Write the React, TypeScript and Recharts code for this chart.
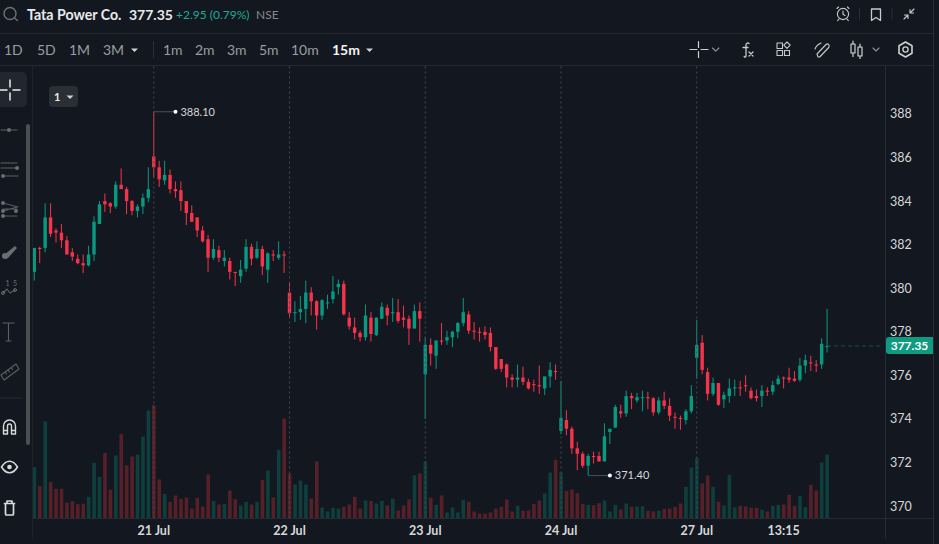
import React from 'react';
import { ComposedChart, Bar, Cell, XAxis, YAxis, ReferenceLine, ReferenceDot } from 'recharts';

const opens = [
  380.75, 381.85, 381.85, 383.25, 382.65, 382.55, 382.2, 381.65, 381.35, 381.15,
  381.05, 381.55, 382.95, 384.0, 383.9, 383.75, 384.75, 384.55, 384.0, 383.55,
  383.75, 384.15, 386.05, 385.55, 384.95, 385.2, 384.55, 384.5, 384.0, 383.45,
  383.25, 382.65, 382.25, 381.4, 381.75, 381.25, 381.25, 380.75, 380.55, 380.9,
  381.9, 381.4, 381.8, 380.85, 381.55, 381.4, 381.55, 379.8, 378.85, 378.9,
  379.05, 379.8, 379.4, 378.75, 379.3, 379.5, 380.05, 380.2, 378.65, 378.2,
  377.95, 377.75, 378.65, 377.85, 378.6, 379.1, 378.85, 378.9, 378.65, 378.6,
  378.15, 378.95, 376.05, 377.4, 376.9, 377.6, 377.6, 377.75, 378.0, 378.4,
  378.8, 378.05, 378.0, 378.0, 377.95, 377.3, 376.75, 376.5, 375.9, 375.8,
  375.9, 375.7, 375.6, 375.55, 375.4, 375.95, 376.2, 373.45, 373.95, 373.55,
  372.65, 372.4, 371.85, 372.3, 372.3, 372.05, 373.4, 373.6, 374.35, 374.25,
  375.05, 374.85, 374.95, 375.0, 374.95, 374.3, 374.85, 374.6, 374.1, 374.05,
  373.95, 374.35, 376.8, 377.5, 376.15, 375.15, 375.65, 374.9, 375.05, 375.4,
  375.45, 375.55, 375.3, 375.05, 375.05, 375.3, 375.25, 375.6, 375.9, 375.9,
  375.85, 375.8, 376.45, 376.6, 376.5, 376.5, 377.3,
];
const highs = [
  381.85, 381.9, 383.9, 383.9, 382.75, 382.95, 382.4, 381.85, 381.55, 381.55,
  381.95, 383.3, 384.0, 384.35, 383.95, 384.9, 385.5, 384.65, 384.05, 383.85,
  384.35, 385.55, 388.1, 385.85, 385.85, 385.45, 384.9, 384.9, 384.0, 383.8,
  383.25, 382.85, 382.45, 382.25, 381.95, 381.75, 381.4, 380.75, 381.3, 382.25,
  382.05, 382.15, 381.95, 381.65, 381.75, 382.15, 381.7, 380.25, 379.4, 379.65,
  380.35, 380.05, 379.45, 379.5, 379.7, 380.55, 380.4, 380.35, 378.9, 378.65,
  378.05, 379.25, 378.9, 378.65, 379.35, 379.25, 379.55, 379.5, 379.2, 378.75,
  379.25, 379.35, 377.75, 377.7, 377.6, 378.4, 378.05, 378.05, 378.45, 379.55,
  378.95, 378.45, 378.2, 378.25, 378.2, 377.3, 376.75, 376.55, 376.05, 376.5,
  376.4, 375.85, 375.8, 376.45, 375.95, 376.6, 376.5, 375.75, 374.4, 373.65,
  372.95, 372.5, 372.4, 372.5, 372.5, 373.8, 373.55, 374.65, 374.65, 375.3,
  375.2, 375.2, 375.3, 375.25, 375.0, 375.0, 375.25, 374.95, 374.3, 374.15,
  374.45, 375.55, 378.55, 377.85, 376.35, 375.9, 375.65, 375.25, 375.85, 375.8,
  375.75, 376.0, 375.45, 375.35, 375.55, 375.45, 375.75, 376.0, 375.95, 376.35,
  376.2, 376.8, 376.95, 376.9, 376.7, 377.7, 379.05,
];
const lows = [
  380.35, 381.15, 381.65, 382.35, 382.1, 381.85, 381.55, 381.25, 381.1, 380.7,
  381.0, 381.25, 382.95, 383.5, 383.45, 383.65, 384.55, 383.4, 383.35, 383.25,
  383.4, 383.95, 385.1, 384.65, 384.75, 384.35, 384.15, 383.55, 382.9, 383.05,
  382.35, 382.1, 380.75, 381.3, 381.2, 381.0, 380.4, 380.1, 380.25, 380.75,
  381.05, 381.35, 380.6, 380.25, 381.25, 381.3, 380.7, 378.65, 378.45, 378.55,
  378.4, 378.75, 378.1, 378.55, 379.05, 379.3, 379.7, 378.75, 378.1, 377.65,
  377.55, 377.6, 377.55, 377.8, 378.6, 378.3, 378.45, 378.4, 378.2, 377.4,
  378.15, 377.55, 374.0, 376.45, 376.3, 377.4, 377.4, 377.3, 377.7, 378.25,
  377.9, 377.65, 377.55, 377.65, 377.1, 376.25, 376.15, 375.45, 375.45, 375.45,
  375.55, 375.35, 375.25, 375.15, 375.1, 375.45, 375.8, 373.3, 373.25, 372.4,
  371.65, 371.75, 371.4, 371.95, 372.05, 372.05, 372.85, 373.6, 374.05, 374.1,
  374.45, 374.75, 374.35, 374.45, 374.15, 374.2, 374.45, 373.9, 373.55, 373.5,
  373.75, 374.25, 375.85, 376.05, 374.85, 375.05, 374.6, 374.5, 374.75, 375.05,
  375.05, 375.25, 374.9, 374.8, 374.55, 375.05, 375.1, 375.55, 375.4, 375.65,
  375.7, 375.7, 376.1, 376.2, 376.15, 376.3, 377.05,
];
const closes = [
  381.85, 381.8, 383.25, 382.5, 382.55, 382.2, 381.55, 381.45, 381.15, 381.05,
  381.55, 383.05, 383.85, 383.85, 383.75, 384.75, 384.55, 384.0, 383.55, 383.75,
  384.15, 384.55, 385.55, 385.0, 385.2, 384.55, 384.45, 384.0, 383.45, 383.05,
  382.65, 382.15, 381.4, 381.8, 381.4, 381.4, 380.75, 380.7, 380.85, 381.9,
  381.35, 381.8, 381.0, 381.6, 381.5, 381.55, 381.5, 378.85, 378.9, 379.05,
  379.8, 379.4, 378.75, 379.45, 379.35, 379.85, 380.2, 378.8, 378.25, 377.95,
  377.75, 378.75, 377.9, 378.65, 379.15, 378.75, 378.9, 378.5, 378.55, 378.15,
  378.95, 378.6, 377.4, 377.0, 377.6, 377.55, 377.75, 378.0, 378.4, 378.9,
  378.05, 378.0, 377.95, 377.85, 377.3, 376.3, 376.3, 375.9, 375.8, 375.9,
  375.7, 375.4, 375.55, 375.5, 375.95, 376.25, 376.15, 374.05, 373.55, 372.65,
  372.4, 371.85, 372.3, 372.25, 372.05, 373.2, 373.55, 374.55, 374.25, 375.05,
  374.95, 375.0, 375.0, 374.95, 374.3, 374.85, 374.6, 374.15, 374.05, 374.0,
  374.35, 375.05, 377.4, 376.25, 375.15, 375.65, 374.65, 375.1, 375.4, 375.45,
  375.4, 375.5, 374.95, 374.95, 375.3, 375.25, 375.55, 375.85, 375.85, 375.8,
  375.75, 376.45, 376.7, 376.55, 376.45, 377.45, 377.35,
];
const volumes = [
  154, 97, 291, 110, 89, 89, 47, 52, 43, 44,
  65, 167, 125, 197, 86, 189, 253, 159, 186, 192,
  246, 324, 340, 117, 74, 50, 69, 59, 63, 30,
  62, 36, 132, 53, 42, 44, 84, 58, 39, 50,
  42, 50, 116, 144, 63, 206, 300, 135, 102, 114,
  102, 60, 171, 33, 21, 32, 30, 35, 42, 65,
  30, 54, 53, 45, 53, 39, 60, 24, 39, 57,
  129, 135, 171, 62, 41, 69, 18, 33, 18, 56,
  50, 21, 15, 14, 18, 30, 35, 57, 21, 38,
  23, 24, 44, 54, 75, 138, 176, 138, 83, 87,
  76, 44, 41, 40, 46, 54, 21, 41, 27, 45,
  35, 36, 37, 23, 21, 23, 29, 30, 35, 45,
  95, 153, 181, 105, 129, 95, 50, 39, 131, 33,
  38, 36, 32, 32, 26, 21, 38, 41, 42, 71,
  38, 68, 34, 101, 84, 168, 192,
];
const sessionStarts = [22, 47, 72, 97, 122];
const xTickIndex = [22, 47, 72, 97, 122, 138];
const xTickLabels = ['21 Jul', '22 Jul', '23 Jul', '24 Jul', '27 Jul', '13:15'];
const priceTicks = [370, 372, 374, 376, 378, 380, 382, 384, 386, 388];
const SLOTS = 157;

const UP = '#089981';
const DOWN = '#f5334a';
const UP_VOL = '#0f3f3c';
const DOWN_VOL = '#572029';
const BG = '#131820';
const LINE = '#262b33';
const FONT = 'Lato, sans-serif';

const rows = Array.from({ length: SLOTS }, (_, i) =>
  i < opens.length
    ? { idx: i, open: opens[i], high: highs[i], low: lows[i], close: closes[i], volume: volumes[i], range: [lows[i], highs[i]] }
    : { idx: i, range: null, volume: null }
);

const Candle = (props: any) => {
  const { x, y, width, height, payload } = props;
  if (!payload || payload.range == null) return null;
  const { open, high, low, close } = payload;
  const top = Math.min(y, y + height);
  const h = Math.abs(height);
  const k = h / (high - low);
  const color = close >= open ? UP : DOWN;
  const bodyTop = top + (high - Math.max(open, close)) * k;
  const bodyH = Math.max(Math.abs(open - close) * k, 1);
  const cx = x + width / 2;
  return (
    <g>
      <rect x={cx - 0.5} y={top} width={1} height={h} fill={color} />
      <rect x={x} y={bodyTop} width={width} height={bodyH} fill={color} />
    </g>
  );
};

const Txt = ({ x, size = 14, color = '#9a9da2', weight = 400, y = 50, children }: any) => (
  <span style={{ position: 'absolute', left: x, top: y - 10, height: 20, lineHeight: '20px', fontSize: size, color, fontWeight: weight, whiteSpace: 'nowrap' }}>
    {children}
  </span>
);

// toolbars are plain svg, nothing here is chart data
const Icons = () => (
  <svg width={939} height={544} style={{ position: 'absolute', left: 0, top: 0, pointerEvents: 'none' }} fill="none" strokeLinecap="round" strokeLinejoin="round">
    {/* search */}
    <circle cx={10} cy={13.5} r={6} stroke="#6d7074" strokeWidth={1.4} />
    <path d="M14.5 18l3 2.5" stroke="#6d7074" strokeWidth={1.4} />
    {/* alarm */}
    <g stroke="#c8c9cb" strokeWidth={1.1}>
      <circle cx={843} cy={14} r={5.6} />
      <path d="M843 11v3.3l2 1.2M837 8.5l1.6-1.5M849 8.5l-1.6-1.5M839 19l-1.3 1.6M847 19l1.3 1.6" />
    </g>
    <path d="M859.5 8v11M892 8v11" stroke="#2b2f36" />
    <path d="M871.5 9h9v11.5l-4.5-3-4.5 3z" stroke="#c8c9cb" strokeWidth={1.3} />
    <path d="M904 19l4-4M904.5 15h3.5v3.5M914 9l-4 4M910 9.5V13h3.5" stroke="#c8c9cb" strokeWidth={1.1} />
    {/* second row, right side */}
    <path d="M690 49.5h7M701 49.5h7M698.5 41.5v6M698.5 51.5v6" stroke="#d0d1d3" strokeWidth={1.2} />
    <path d="M712.5 48l3.2 3.2 3.2-3.2M873 48l3 3 3-3" stroke="#8f9195" strokeWidth={1.1} />
    <path d="M746 56c0 1.5-1.8 1.5-1.8.3M749 43.5c-1.5-1.2-3 0-3 1.5V56M743 47.5h5M749 52l4 4M753 52l-4 4" stroke="#c8c9cb" strokeWidth={1.3} />
    <g stroke="#c8c9cb" strokeWidth={1.1}>
      <rect x={777} y={43} width={5.5} height={5.5} />
      <rect x={777} y={50.5} width={5.5} height={5} />
      <rect x={784.5} y={50.5} width={5} height={5} />
      <path d="M787 42l3.2 3.2-3.2 3.2-3.2-3.2z" />
    </g>
    <path d="M818 57l-1-3 9-9.5c2-1.6 4.3 1 2.7 3l-9 9.5zM815 49c1-3 3-4.5 6-6" stroke="#c8c9cb" strokeWidth={1.1} />
    <g stroke="#d0d1d3" strokeWidth={1.2}>
      <rect x={851} y={44} width={4} height={9} />
      <path d="M853 41v3M853 53v3.5M860 44v3M860 56v2.5" />
      <rect x={858} y={47} width={4} height={9} />
    </g>
    <path d="M905.5 42l6.5 3.7v7.6l-6.5 3.7-6.500-3.700v-7.600z" stroke="#d0d1d3" strokeWidth={1.6} />
    <circle cx={905.5} cy={49.5} r={2.6} stroke="#d0d1d3" strokeWidth={1.3} />
    {/* left rail */}
    <rect x={-6} y={72} width={33} height={35} rx={5} fill="#22262e" />
    <path d="M0 90h7M13 90h7M10 80v7M10 93v7" stroke="#eceded" strokeWidth={1.5} />
    <rect x={26} y={124} width={4} height={321} rx={2} fill="#4b4e53" />
    <g stroke="#5c5f64" strokeWidth={1.1} fill="none">
      <path d="M1 130h16" />
      <path d="M1 163h16M1 168h16M3 176h15" />
      <path d="M3 203l15 4M3 211l14-4M3 216h15M3 209h15" strokeDasharray="2 1" />
      <path d="M3 293l4-4 3 4 5-3" />
      <path d="M3 323h11M8.5 323v18M6 341h5" />
      <path d="M1 375l15-11 3 5-15 11zM5 372l1.5 2M8 370l1.5 2M11 367.5l1.5 2" />
    </g>
    <circle cx={9} cy={130} r={2} fill="#6a6d71" />
    <circle cx={17} cy={168} r={2} fill="#6a6d71" />
    <circle cx={3} cy={176} r={2} fill="#6a6d71" />
    <circle cx={3} cy={203} r={2} fill="#6a6d71" />
    <circle cx={3} cy={216} r={2} fill="#6a6d71" />
    <circle cx={3} cy={211} r={2} fill="#6a6d71" />
    <circle cx={16} cy={211} r={2} fill="#6a6d71" />
    <path d="M4 255l11-9 2 2-9 10-3 1z" fill="#6a6d71" />
    <circle cx={5} cy={256} r={3} fill="#6a6d71" />
    <circle cx={3} cy={293} r={1.5} stroke="#6a6d71" />
    <circle cx={15} cy={290} r={1.5} stroke="#6a6d71" />
    <path d="M0 398h21" stroke="#262a30" />
    <g stroke="#d9dadb" strokeWidth={1.4}>
      <path d="M3.5 434v-8a6 6 0 0 1 12 0v8h-4v-8a2 2 0 0 0-4 0v8zM3.5 430.500h4M11.5 430.500h4" />
      <path d="M1.5 467c2.5-4 5-5.800 8-5.800s5.500 1.800 8 5.800c-2.500 4-5 5.800-8 5.800s-5.500-1.800-8-5.800z" strokeWidth={1.6} />
      <path d="M4.500 503.500h10M7 503v-2h5v2M5.500 503.500v10.500a1 1 0 0 0 1 1h6a1 1 0 0 0 1-1v-10.500" strokeWidth={1.7} />
    </g>
    <circle cx={9.5} cy={467} r={2.3} fill="#d9dadb" />
    <text x={5.5} y={285.5} fontSize={7} fill="#6a6d71" fontFamily={FONT}>1</text>
    <text x={13} y={285.5} fontSize={7} fill="#6a6d71" fontFamily={FONT}>5</text>
    {/* carets */}
    <path d="M131 48.5h7l-3.500 3.500zM366 48.5h7l-3.500 3.500z" fill="#d0d1d3" />
  </svg>
);

const App = () => (
  <div style={{ position: 'absolute', left: 0, top: 0, width: 939, height: 544, background: BG, overflow: 'hidden', fontFamily: FONT }}>
    {/* volume sits in its own chart under the candles so the bars are not grouped side by side */}
    <div style={{ position: 'absolute', left: 0, top: 0 }}>
      <ComposedChart
        width={939}
        height={544}
        data={rows}
        margin={{ top: 66, right: 54.92, bottom: 25.5, left: 31.58 }}
        barCategoryGap={0}
      >
        <XAxis dataKey="idx" type="category" hide />
        <YAxis hide domain={[0, 1357.5]} allowDataOverflow />
        <Bar dataKey="volume" barSize={3.6} isAnimationActive={false}>
          {rows.map((r: any) => (
            <Cell key={r.idx} fill={r.close >= r.open ? UP_VOL : DOWN_VOL} />
          ))}
        </Bar>
      </ComposedChart>
    </div>
    <div style={{ position: 'absolute', left: 0, top: 0 }}>
      <ComposedChart
        width={939}
        height={544}
        data={rows}
        margin={{ top: 66, right: 0, bottom: 0, left: 31.58 }}
        barCategoryGap={0}
      >
        <XAxis
          dataKey="idx"
          type="category"
          ticks={xTickIndex}
          interval={0}
          height={25.5}
          tickLine={false}
          axisLine={false}
          tick={{ fill: '#d6d7d9', fontSize: 12.5, fontWeight: 700, fontFamily: FONT }}
          tickFormatter={(v: number) => xTickLabels[xTickIndex.indexOf(v)]}
        />
        <YAxis
          orientation="right"
          width={54.92}
          domain={[369.43, 390.2]}
          allowDataOverflow
          ticks={priceTicks}
          interval={0}
          tickLine={false}
          axisLine={false}
          tick={{ fill: '#d6d7d9', fontSize: 12.5, fontFamily: FONT, dx: -2 }}
        />
        {sessionStarts.map((s) => (
          <ReferenceLine key={s} x={s} stroke="#454a51" strokeDasharray="2 3" />
        ))}
        <Bar dataKey="range" barSize={3.4} shape={Candle} isAnimationActive={false} />
        <ReferenceLine segment={[{ x: 22, y: 388.1 }, { x: 26, y: 388.1 }]} stroke="#4b5057" />
        <ReferenceDot
          x={26}
          y={388.1}
          r={2}
          fill="#ffffff"
          stroke="none"
          label={{ value: '388.10', position: 'right', offset: 3, fill: '#d6d7d9', fontSize: 11, fontFamily: FONT }}
        />
        <ReferenceLine segment={[{ x: 102, y: 371.4 }, { x: 106, y: 371.4 }]} stroke="#4b5057" />
        <ReferenceDot
          x={106}
          y={371.4}
          r={2}
          fill="#ffffff"
          stroke="none"
          label={{ value: '371.40', position: 'right', offset: 3, fill: '#d6d7d9', fontSize: 11, fontFamily: FONT }}
        />
        <ReferenceLine
          segment={[{ x: 146, y: 377.35 }, { x: 156, y: 377.35 }]}
          stroke="#17524a"
          strokeDasharray="4 3"
        />
      </ComposedChart>
    </div>

    <div style={{ position: 'absolute', left: 0, top: 33, width: 934, height: 1, background: LINE }} />
    <div style={{ position: 'absolute', left: 0, top: 65, width: 934, height: 1, background: LINE }} />
    <div style={{ position: 'absolute', left: 32, top: 66, width: 1, height: 473, background: '#1e232a' }} />
    <div style={{ position: 'absolute', left: 33, top: 518, width: 900, height: 1, background: LINE }} />
    <div style={{ position: 'absolute', left: 885, top: 66, width: 1, height: 473, background: LINE }} />
    <div style={{ position: 'absolute', left: 933, top: 0, width: 1, height: 544, background: LINE }} />
    <div style={{ position: 'absolute', left: 153, top: 41, width: 1, height: 17, background: '#2b2f36' }} />

    <Icons />

    <Txt x={27} y={15} size={14.2} color="#e8e9ea" weight={700}>Tata Power Co.</Txt>
    <Txt x={129} y={15} size={14} color="#e8e9ea" weight={700}>377.35</Txt>
    <Txt x={176} y={15} size={12} color="#1fa99a">+2.95 (0.79%)</Txt>
    <Txt x={256} y={15} size={12} color="#85888c">NSE</Txt>

    <Txt x={4}>1D</Txt>
    <Txt x={37}>5D</Txt>
    <Txt x={69}>1M</Txt>
    <Txt x={103}>3M</Txt>
    <Txt x={163}>1m</Txt>
    <Txt x={195}>2m</Txt>
    <Txt x={227}>3m</Txt>
    <Txt x={259}>5m</Txt>
    <Txt x={291}>10m</Txt>
    <Txt x={332} color="#f2f2f3" weight={700}>15m</Txt>

    <div style={{ position: 'absolute', left: 49, top: 86, width: 29, height: 21, borderRadius: 4, background: '#2a2e35' }} />
    <Txt x={54} y={97} size={11} color="#e8e9ea" weight={700}>1</Txt>
    <svg width={10} height={8} style={{ position: 'absolute', left: 66, top: 94 }}>
      <path d="M0.5 1.5h7l-3.5 3.5z" fill="#d0d1d3" />
    </svg>

    <div style={{ position: 'absolute', left: 886, top: 337, width: 47, height: 17, background: '#0f9b82', borderRadius: '3px 0 0 3px', color: '#ffffff', fontSize: 12, fontWeight: 700, lineHeight: '17px', textAlign: 'center' }}>
      377.35
    </div>
  </div>
);

export default App;
